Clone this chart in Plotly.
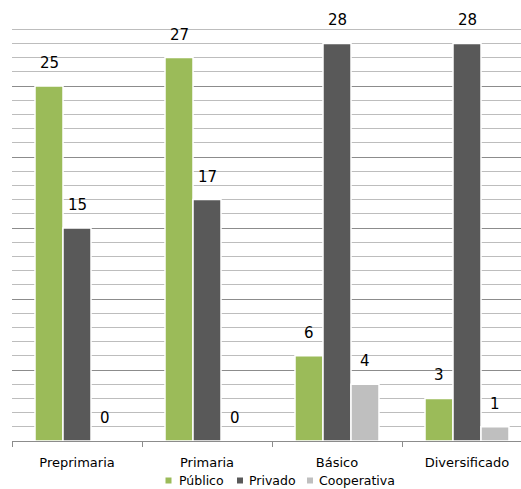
import plotly.graph_objects as go

categories = ["Preprimaria", "Primaria", "Básico", "Diversificado"]
publico = [25, 27, 6, 3]
privado = [15, 17, 28, 28]
cooperativa = [0, 0, 4, 1]
series_names = ["Público", "Privado", "Cooperativa"]
series_values = [publico, privado, cooperativa]
colors = ["#9BBB59", "#595959", "#BFBFBF"]

W, H = 521, 489
ML, MT, MB = 12, 15, 48
PLOT_W = W - ML
PLOT_H = H - MT - MB
CAT_PX = 130.0
FONT = "DejaVu Sans"

fig = go.Figure()
for name, vals, col in zip(series_names, series_values, colors):
    fig.add_trace(go.Bar(
        x=categories, y=vals, name=name,
        marker=dict(color=col, line=dict(color="white", width=1.5)),
        showlegend=False,
    ))

# data labels above bars
offsets = [-28, 0, 28]
annotations = []
for vals, dx in zip(series_values, offsets):
    for c, v in zip(categories, vals):
        annotations.append(dict(
            x=c, y=v, xref="x", yref="y", text=str(v), showarrow=False,
            xshift=dx, yshift=23, yanchor="middle", xanchor="center",
            font=dict(family=FONT, size=15, color="#000000"),
        ))

# custom legend (pixel positions converted to paper coords)
def px_x(p):
    return (p - ML) / PLOT_W

def px_y(p):
    return (H - MB - p) / PLOT_H

legend_sq = [165.5, 237, 307]
legend_tx = [176.5, 247, 317]
legend_y = 480.5
shapes = []
for sx, tx, name, col in zip(legend_sq, legend_tx, series_names, colors):
    shapes.append(dict(
        type="rect", xref="paper", yref="paper",
        x0=px_x(sx), x1=px_x(sx + 6), y0=px_y(legend_y + 3), y1=px_y(legend_y - 3),
        fillcolor=col, line=dict(width=0),
    ))
    annotations.append(dict(
        x=px_x(tx), y=px_y(legend_y), xref="paper", yref="paper",
        text=name, showarrow=False, xanchor="left", yanchor="middle",
        font=dict(family=FONT, size=12.5, color="#000000"),
    ))

fig.update_layout(
    width=W, height=H,
    margin=dict(l=ML, r=0, t=MT, b=MB, pad=0),
    paper_bgcolor="white", plot_bgcolor="white",
    barmode="group", bargap=0.354, bargroupgap=0,
    font=dict(family=FONT, size=13, color="#000000"),
    annotations=annotations, shapes=shapes,
    showlegend=False,
    xaxis=dict(
        type="category", range=[-0.5, -0.5 + PLOT_W / CAT_PX],
        showgrid=False, showline=True, linecolor="#8C8C8C", linewidth=1,
        ticks="outside", tickson="boundaries", ticklen=5, tickcolor="#8C8C8C",
        ticklabelstandoff=9,
        tickfont=dict(family=FONT, size=13, color="#000000"),
        zeroline=False,
    ),
    yaxis=dict(
        range=[0, 30], dtick=5, tick0=0, showticklabels=False, ticks="",
        showgrid=True, gridcolor="#8C8C8C", gridwidth=1,
        minor=dict(dtick=1, showgrid=True, gridcolor="#BDBDBD", gridwidth=1),
        zeroline=False, showline=False,
    ),
)

fig.write_html("out.html")
